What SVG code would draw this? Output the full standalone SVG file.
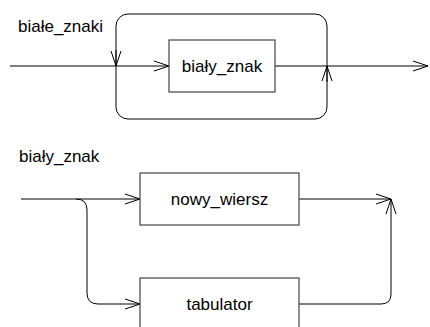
<svg xmlns="http://www.w3.org/2000/svg" width="430" height="327" viewBox="0 0 430 327">
<style>
text{font-family:"Liberation Sans",Arial,sans-serif;font-size:17px;fill:#000}
.box{fill:#fff;stroke:#444;stroke-width:1.2}
.ln{fill:none;stroke:#000;stroke-width:1}
</style>
<defs>
<marker id="a" markerWidth="16" markerHeight="12" refX="15" refY="6" orient="auto" markerUnits="userSpaceOnUse">
<path d="M0,1 L15,6 L0,11" fill="none" stroke="#000" stroke-width="1"/>
</marker>
</defs>
<text x="18" y="32">białe_znaki</text>
<text x="19" y="162">biały_znak</text>
<g id="connectors">
<rect class="ln" x="116" y="14" width="211" height="105" rx="12"/>
<path class="ln" d="M10,66 H169" marker-end="url(#a)"/>
<path class="ln" d="M275,66 H428" marker-end="url(#a)"/>
<path class="ln" d="M116,50 V66" marker-end="url(#a)"/>
<path class="ln" d="M327,82 V66" marker-end="url(#a)"/>
<path class="ln" d="M21,199 H140" marker-end="url(#a)"/>
<path class="ln" d="M76,199 Q87,199 87,210 V293 Q87,304 98,304 H140" marker-end="url(#a)"/>
<path class="ln" d="M299,199 H391" marker-end="url(#a)"/>
<path class="ln" d="M299,304 H381 Q391,304 391,294 V199" marker-end="url(#a)"/>
</g>
<g id="bialy_znak">
<rect class="box" x="169" y="40" width="106" height="52"/>
<text x="222" y="72" text-anchor="middle">biały_znak</text>
</g>
<g id="nowy_wiersz">
<rect class="box" x="140" y="173" width="159" height="52"/>
<text x="219.5" y="205" text-anchor="middle">nowy_wiersz</text>
</g>
<g id="tabulator">
<rect class="box" x="140" y="278" width="159" height="60"/>
<text x="219.5" y="310" text-anchor="middle">tabulator</text>
</g>
</svg>
